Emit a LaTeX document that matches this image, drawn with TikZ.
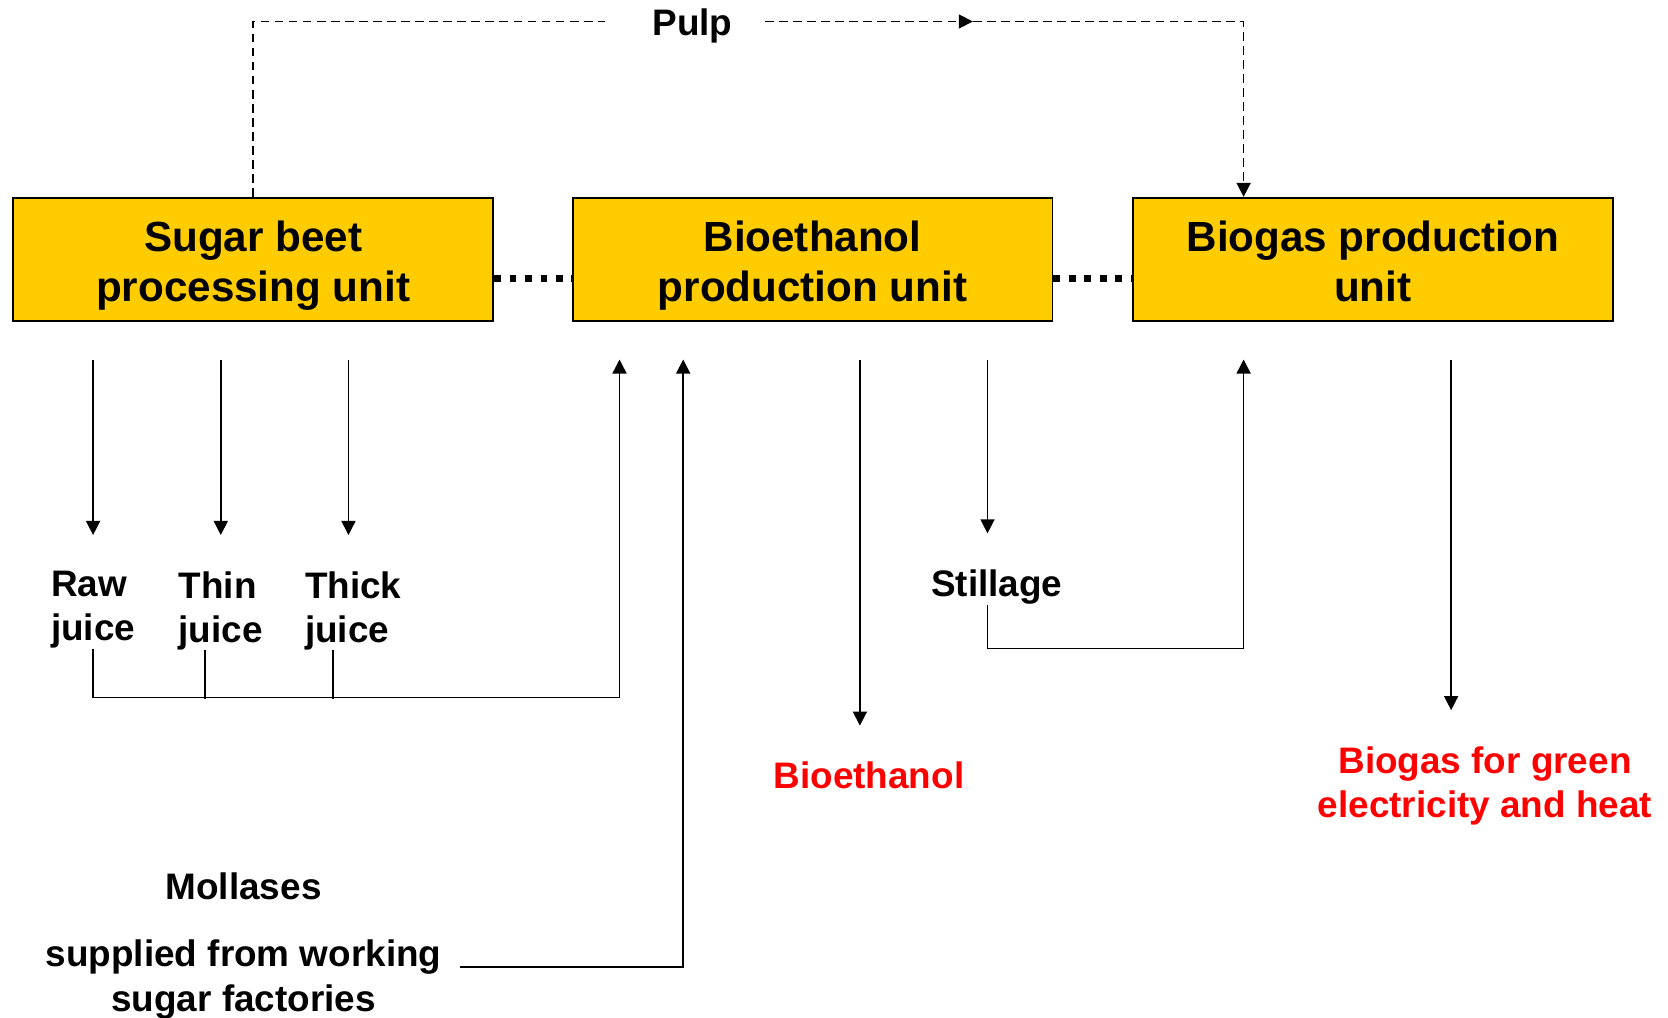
\documentclass[tikz,border=0pt]{standalone}
\usepackage{fontspec}
\setmainfont{Liberation Sans}
\usepackage{tikz}
\usetikzlibrary{arrows.meta,positioning}
\definecolor{Gold}{HTML}{FFCC00}
\definecolor{Red}{HTML}{FF0000}
\newcommand{\unittext}[2]{\rule{0pt}{25pt}#1\\#2\rule[-5.5pt]{0pt}{0pt}}

\begin{document}
\begin{tikzpicture}[x=0.02cm,y=-0.02cm,>={Triangle[length=8pt,width=8pt]},
    unitbox/.style={draw=black,line width=1.1pt,fill=Gold,minimum width=9.6cm,minimum height=2.47cm,align=center,
      font=\fontsize{24}{28.3}\selectfont\bfseries},
    lbl/.style={inner sep=0pt,align=center,font=\fontsize{21}{25}\selectfont\bfseries},
    product/.style={lbl,text=Red},
    flow/.style={->,line width=0.85pt},
    wire/.style={line width=0.85pt},
    tap/.style={flow,shorten >=0.72cm},
    pulpline/.style={line width=0.85pt,dash pattern=on 5pt off 3pt},
    link/.style={line width=3.8pt,dash pattern=on 3.8pt off 5pt}]
  \useasboundingbox (0,0) rectangle (1668,1018);

  % units
  \node[unitbox] (sbpu) at (253.2,259.6) {\unittext{Sugar beet}{processing unit}};
  \node[unitbox,right=1.55cm of sbpu] (bepu) {\unittext{Bioethanol}{production unit}};
  \node[unitbox,right=1.57cm of bepu] (bgpu) {\unittext{Biogas production}{unit}};
  \draw[link] ([yshift=-0.38cm]sbpu.east) -- ([yshift=-0.38cm]bepu.west);
  \draw[link] ([yshift=-0.38cm]bepu.east) -- ([yshift=-0.38cm]bgpu.west);

  % taps below the units
  \path (sbpu.south west) ++(80.8,37.2) coordinate (rawout) ++(127.7,0) coordinate (thinout) ++(127.7,0) coordinate (thickout);
  \path (bepu.south west) ++(47.9,37.2) coordinate (juicein) ++(63.7,0) coordinate (molin)
        ++(176.7,0) coordinate (ethout) ++(127.6,0) coordinate (stillout);
  \path (bgpu.south west) ++(111.7,37.2) coordinate (gasin) ++(207.5,0) coordinate (gasout);
  \path (bgpu.north west) ++(111.7,0) coordinate (gastop);

  % labels
  \node[lbl] (pulp) at (692.5,26) {Pulp};
  \node[lbl,align=left,anchor=north] (raw) at (rawout |- 0,571) {Raw\\juice};
  \node[lbl,align=left,anchor=north] (thin) at (thinout |- 0,571) {Thin\\juice};
  \node[lbl,align=left,anchor=north] (thick) at (353.3,571) {Thick\\juice};
  \node[lbl] (stillage) at (996.8,587) {Stillage};
  \node[product] (ethanol) at (869,775.5) {Bioethanol};
  \node[product,font=\fontsize{21}{25.4}\selectfont\bfseries] (biogas) at (1485,786) {Biogas for green\\electricity and heat};
  \node[lbl] (molasses) at (243.6,886) {Mollases};
  \node[lbl,font=\fontsize{21}{26}\selectfont\bfseries] (supply) at (243.6,979.5) {supplied from working\\sugar factories};

  % pulp
  \draw[pulpline,shorten >=0.94cm] (sbpu.north) |- ([yshift=0.09cm]pulp.west);
  \path ([yshift=0.09cm]pulp.east) ++(240,0) coordinate (pulpmid);
  \draw[pulpline,->,shorten <=0.64cm] ([yshift=0.09cm]pulp.east) -- (pulpmid);
  \draw[pulpline,->] (pulpmid) -| (gastop);

  % juices
  \draw[tap] (rawout) -- (rawout |- raw.north);
  \draw[tap] (thinout) -- (thinout |- thin.north);
  \draw[tap] (thickout) -- (thickout |- thick.north);
  \draw[flow] (raw.south -| rawout) -- ++(0,49) -| (juicein);
  \draw[wire] ([xshift=-0.32cm]thin.south) -- ++(0,49);
  \draw[wire] ([xshift=-0.406cm]thick.south) -- ++(0,49);

  % molasses
  \draw[flow] ([xshift=0.36cm,yshift=0.25cm]supply.east) -| (molin);

  % products
  \draw[tap] (ethout) -- (ethout |- ethanol.north);
  \draw[tap] (stillout) -- (stillout |- stillage.north);
  \draw[flow] (stillage.south -| stillout) -- ++(0,44) -| (gasin);
  \draw[tap] (gasout) -- (gasout |- biogas.north);
\end{tikzpicture}
\end{document}
